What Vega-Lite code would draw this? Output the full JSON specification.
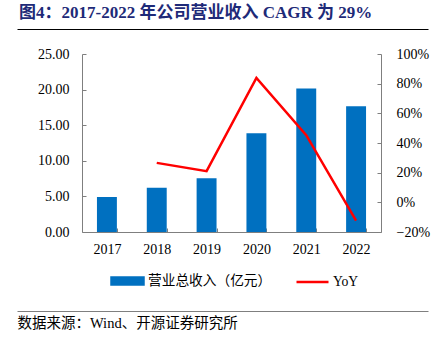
{
  "$schema": "https://vega.github.io/schema/vega-lite/v6.json",
  "padding": {"left": 17, "top": 4, "right": 11, "bottom": 8},
  "background": "#ffffff",
  "config": {
    "view": {"stroke": null},
    "font": "Liberation Serif, Noto Sans CJK SC"
  },
  "vconcat": [
    {
      "width": 411,
      "height": 4,
      "data": {"values": [{"v": 0}]},
      "mark": {"type": "point", "opacity": 0},
      "encoding": {
        "x": {
          "field": "v",
          "type": "quantitative",
          "axis": {"title": null, "labels": false, "ticks": false, "grid": false, "domain": true, "domainColor": "#000000", "domainWidth": 1}
        }
      },
      "title": {
        "text": "图4：2017-2022 年公司营业收入 CAGR 为 29%",
        "anchor": "start",
        "dx": 2,
        "offset": -11,
        "baseline": "alphabetic",
        "font": "Liberation Serif, Noto Sans CJK SC",
        "fontSize": 17,
        "fontWeight": "bold",
        "color": "#1E2A78"
      }
    },
    {
      "hconcat": [
        {
          "width": 65,
          "height": 178,
          "data": {"values": []},
          "mark": "rule",
          "encoding": {}
        },
        {
          "width": 299,
          "height": 178,
          "data": {
            "values": [
              {"year": "2017", "revenue": 4.92, "yoy": null},
              {"year": "2018", "revenue": 6.23, "yoy": 0.266},
              {"year": "2019", "revenue": 7.54, "yoy": 0.21},
              {"year": "2020", "revenue": 13.86, "yoy": 0.838},
              {"year": "2021", "revenue": 20.14, "yoy": 0.453},
              {"year": "2022", "revenue": 17.65, "yoy": -0.124}
            ]
          },
          "encoding": {
            "x": {
              "field": "year",
              "type": "ordinal",
              "scale": {"paddingInner": 0.6, "paddingOuter": 0.3},
              "axis": {
                "title": null,
                "labelAngle": 0,
                "tickBand": "extent",
                "tickSize": -4,
                "labelPadding": 14,
                "domainColor": "#7f7f7f",
                "tickColor": "#7f7f7f",
                "labelFont": "Liberation Serif",
                "labelFontSize": 14,
                "labelColor": "#000000"
              }
            }
          },
          "layer": [
            {
              "mark": {"type": "bar", "color": "#0070C0"},
              "encoding": {
                "y": {
                  "field": "revenue",
                  "type": "quantitative",
                  "scale": {"domain": [0, 25]},
                  "axis": {
                    "title": null,
                    "values": [0, 5, 10, 15, 20, 25],
                    "format": ".2f",
                    "grid": false,
                    "tickSize": -4,
                    "labelPadding": 17,
                    "domainColor": "#7f7f7f",
                    "tickColor": "#7f7f7f",
                    "labelFont": "Liberation Serif",
                    "labelFontSize": 14,
                    "labelColor": "#000000"
                  }
                },
                "color": {
                  "datum": "营业总收入（亿元）",
                  "scale": {"domain": ["营业总收入（亿元）", "YoY"], "range": ["#0070C0", "#FF0000"]},
                  "legend": {
                    "title": null,
                    "orient": "none",
                    "legendX": 28,
                    "legendY": 209,
                    "direction": "horizontal",
                    "symbolSize": 1024,
                    "labelFont": "Liberation Serif, Noto Sans CJK SC",
                    "labelFontSize": 13.7,
                    "labelColor": "#000000",
                    "labelOffset": 3,
                    "columnPadding": 19,
                    "encode": {
                      "symbols": {
                        "update": {
                          "shape": {"signal": "datum.value === 'YoY' ? 'stroke' : 'M-1,-0.22H1V0.22H-1Z'"},
                          "fill": {"signal": "datum.value === 'YoY' ? 'transparent' : '#0070C0'"},
                          "stroke": {"signal": "datum.value === 'YoY' ? '#FF0000' : 'transparent'"},
                          "strokeWidth": {"value": 2.5},
                          "opacity": {"value": 1}
                        }
                      }
                    }
                  }
                }
              }
            },
            {
              "mark": {"type": "line", "strokeWidth": 2.5},
              "encoding": {
                "y": {
                  "field": "yoy",
                  "type": "quantitative",
                  "scale": {"domain": [-0.2, 1.0]},
                  "axis": {
                    "orient": "right",
                    "title": null,
                    "values": [-0.2, 0, 0.2, 0.4, 0.6, 0.8, 1.0],
                    "format": ".0%",
                    "grid": false,
                    "tickSize": -4,
                    "labelPadding": 19,
                    "domainColor": "#7f7f7f",
                    "tickColor": "#7f7f7f",
                    "labelFont": "Liberation Serif",
                    "labelFontSize": 14,
                    "labelColor": "#000000"
                  }
                },
                "color": {"datum": "YoY"}
              }
            }
          ],
          "resolve": {"scale": {"y": "independent"}}
        }
      ],
      "spacing": 0,
      "bounds": "flush",
      "resolve": {"scale": {"color": "independent"}, "legend": {"color": "independent"}}
    },
    {
      "width": 411,
      "height": 1,
      "data": {"values": [{"v": 0}]},
      "mark": {"type": "point", "opacity": 0},
      "encoding": {
        "x": {
          "field": "v",
          "type": "quantitative",
          "axis": {
            "title": "数据来源：Wind、开源证券研究所",
            "titleAnchor": "start",
            "titleAlign": "left",
            "titleFont": "Liberation Serif, Noto Sans CJK SC",
            "titleFontSize": 14.5,
            "titleFontWeight": "normal",
            "titleColor": "#000000",
            "titlePadding": 5,
            "labels": false,
            "ticks": false,
            "grid": false,
            "domainColor": "#7f7f7f",
            "domainWidth": 1
          }
        }
      }
    }
  ],
  "spacing": 17,
  "resolve": {"scale": {"color": "independent"}, "legend": {"color": "independent"}}
}
